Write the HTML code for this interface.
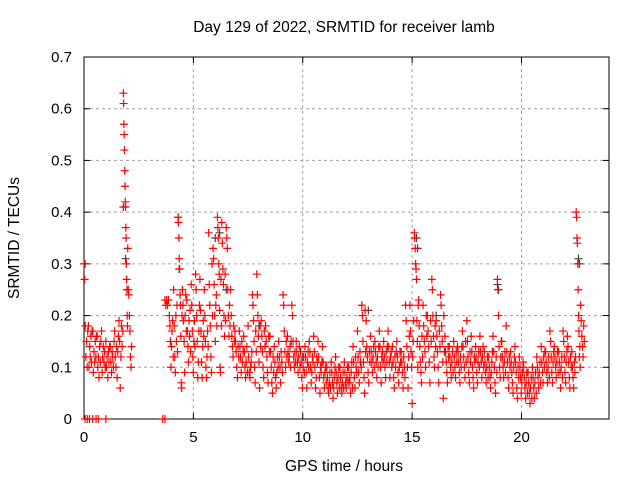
<!DOCTYPE html>
<html><head><meta charset="utf-8"><style>
html,body{margin:0;padding:0;background:#fff}
svg{display:block;font-family:"Liberation Sans",sans-serif}
</style></head><body>
<svg id="chart" width="640" height="480">
<rect width="640" height="480" fill="#fff"/>
<g id="grid"></g>
<g id="axes"></g>
<g id="gray"></g>
<g id="red"></g>
<text x="344" y="32" text-anchor="middle" font-size="15.5">Day 129 of 2022, SRMTID for receiver lamb</text>
<text x="344" y="471" text-anchor="middle" font-size="15.5">GPS time / hours</text>
<text transform="translate(19,238) rotate(-90)" text-anchor="middle" font-size="15.5">SRMTID / TECUs</text>
</svg>
<script>
const binStarts=[0,0.2,0.4,0.6,0.8,1.0,1.2,1.4,1.6,1.8,2.0,3.7,3.9,4.1,4.3,4.5,4.7,4.9,5.1,5.3,5.5,5.7,5.9,6.1,6.3,6.5,6.7,6.9,7.1,7.3,7.5,7.7,7.9,8.1,8.3,8.5,8.7,8.9,9.1,9.3,9.5,9.7,9.9,10.1,10.3,10.5,10.7,10.9,11.1,11.3,11.5,11.7,11.9,12.1,12.3,12.5,12.7,12.9,13.1,13.3,13.5,13.7,13.9,14.1,14.3,14.5,14.7,14.9,15.1,15.3,15.5,15.7,15.9,16.1,16.3,16.5,16.7,16.9,17.1,17.3,17.5,17.7,17.9,18.1,18.3,18.5,18.7,18.9,19.1,19.3,19.5,19.7,19.9,20.1,20.3,20.5,20.7,20.9,21.1,21.3,21.5,21.7,21.9,22.1,22.3,22.5,22.7];
const binValues=[
[.30,.27,.18,.12,.15,.10,.17],[.18,.10,.14,.12,.16,.11,.17],[.17,.09,.13,.11,.15,.12,.16],[.16,.10,.12,.08,.14,.11,.15],[.17,.09,.12,.14,.11,.13,.10],
[.15,.10,.12,.08,.13,.11,.14],[.14,.11,.09,.13,.12,.10,.15],[.17,.12,.10,.14,.08,.13,.16],[.19,.15,.06,.12,.18,.14,.17],
[.63,.61,.57,.55,.52,.48,.45,.42,.41,.37,.35,.30,.27,.25,.20,.18],[.33,.25,.24,.20,.17,.12,.10,.14],
[.23,.22,.23,.22,.23],[.20,.18,.15,.10,.14,.17,.19,.12],[.25,.18,.12,.09,.20,.15,.22,.13],[.39,.38,.35,.31,.29,.24,.22,.16,.07,.06,.20],
[.25,.22,.19,.15,.09,.20,.24,.17],[.23,.17,.14,.11,.19,.16,.21,.13],[.26,.22,.17,.12,.09,.15,.19,.14],[.28,.25,.20,.15,.08,.11,.17,.22],
[.27,.21,.17,.11,.08,.14,.19,.16],[.25,.20,.15,.10,.08,.12,.17,.14],[.36,.26,.22,.18,.12,.09,.30,.20],[.33,.31,.26,.20,.15,.22,.24,.18],
[.39,.37,.35,.30,.28,.21,.10,.09,.27,.18],[.38,.34,.29,.26,.20,.16,.28,.19],[.37,.35,.33,.25,.20,.16,.22,.18],[.25,.20,.16,.14,.12,.18,.15],
[.17,.15,.13,.10,.08,.14,.12],[.17,.14,.12,.09,.15,.11,.13],[.16,.13,.10,.08,.11,.14,.09],[.18,.12,.09,.08,.10,.11,.13],[.24,.22,.19,.15,.10,.07,.17,.13],
[.28,.24,.20,.16,.11,.06,.18,.14],[.19,.16,.13,.10,.08,.17,.14],[.18,.15,.12,.09,.07,.16,.13],[.16,.13,.10,.07,.05,.12,.09],[.14,.11,.08,.06,.09,.12,.10],
[.15,.12,.10,.07,.13,.11,.09],[.24,.22,.17,.13,.10,.15,.12],[.16,.13,.11,.12,.14,.10,.15],[.22,.20,.15,.12,.10,.13,.11],[.15,.13,.11,.09,.12,.14,.10],
[.13,.11,.08,.06,.10,.12,.09],[.14,.12,.09,.06,.11,.13,.10],[.15,.13,.10,.07,.09,.12,.11],[.16,.13,.10,.06,.08,.12,.11],[.15,.12,.08,.05,.10,.09,.11],
[.14,.11,.08,.06,.09,.10,.07],[.10,.08,.06,.05,.07,.09,.06],[.11,.09,.07,.04,.06,.08,.10],[.12,.09,.07,.05,.08,.10,.06],[.10,.08,.06,.05,.07,.09,.06],
[.11,.09,.07,.06,.08,.10,.07],[.10,.08,.07,.05,.09,.11,.06],[.14,.11,.08,.06,.12,.10,.09],[.17,.12,.09,.07,.13,.11,.10],[.22,.20,.15,.11,.08,.05,.21,.13],
[.19,.14,.12,.09,.07,.13,.11],[.16,.13,.11,.09,.12,.14,.10],[.15,.13,.11,.08,.12,.10,.14],[.17,.14,.10,.07,.12,.13,.11],[.15,.12,.10,.08,.13,.11,.14],
[.17,.14,.11,.08,.12,.13,.10],[.14,.11,.08,.06,.12,.10,.13],[.15,.12,.09,.07,.10,.13,.11],[.13,.11,.09,.06,.12,.10,.08],[.22,.19,.14,.10,.06,.12,.16],
[.22,.17,.13,.10,.03,.12,.15,.19],[.36,.35,.33,.30,.29,.27,.19,.15,.10,.22],[.23,.18,.14,.11,.09,.07,.16,.12],[.22,.18,.15,.13,.10,.20,.16],
[.20,.17,.14,.11,.07,.19,.15],[.27,.25,.20,.16,.12,.10,.18,.14],[.19,.16,.13,.10,.07,.17,.14],[.24,.22,.18,.15,.11,.04,.20,.13],[.16,.13,.11,.09,.07,.14,.12],
[.14,.12,.10,.08,.11,.13,.09],[.15,.12,.10,.08,.13,.11,.14],[.13,.11,.09,.07,.12,.10,.14],[.17,.14,.12,.10,.08,.15,.11],[.19,.15,.12,.09,.07,.13,.11],
[.16,.13,.10,.08,.06,.12,.11],[.14,.12,.09,.07,.11,.13,.10],[.16,.13,.11,.08,.12,.14,.10],[.13,.11,.09,.07,.10,.12,.08],[.12,.10,.08,.06,.09,.11,.13],
[.16,.13,.10,.07,.05,.12,.09],[.27,.25,.20,.14,.10,.08,.12,.15],[.15,.12,.10,.08,.11,.13,.09],[.18,.13,.11,.08,.06,.12,.10],[.13,.11,.09,.07,.05,.10,.12],
[.14,.11,.09,.06,.04,.10,.08],[.12,.10,.08,.05,.07,.09,.11],[.10,.08,.06,.04,.07,.09,.05],[.09,.07,.05,.03,.06,.08,.04],[.10,.08,.06,.04,.07,.09,.05],
[.12,.10,.08,.06,.09,.11,.07],[.14,.11,.09,.07,.12,.10,.13],[.13,.11,.09,.07,.10,.12,.08],[.17,.15,.12,.09,.07,.11,.13],[.14,.12,.10,.08,.11,.13,.09],
[.13,.11,.09,.06,.10,.12,.08],[.17,.15,.12,.09,.07,.11,.13],[.16,.14,.11,.08,.06,.12,.10],[.13,.10,.08,.06,.11,.09,.12],
[.40,.39,.35,.34,.30,.25,.20,.17,.12,.14,.10],[.22,.19,.16,.14,.12,.18,.15]];
const zeroTimes=[0.05,0.15,0.25,0.4,0.55,0.65,1.0,3.6,3.7];
const grayTimes=[0.05,1.8,1.9,4.3,4.35,6.0,6.2,6.5,10.0,15.2,15.25,18.9,18.95,22.6,22.65,13.0,16.1,8.0];
const grayValues=[0.30,0.41,0.31,0.39,0.29,0.35,0.36,0.25,0.12,0.35,0.33,0.26,0.25,0.31,0.30,0.21,0.20,0.18];
const xTicks=[0,5,10,15,20];
const yTicks=[0,0.1,0.2,0.3,0.4,0.5,0.6,0.7];
const yLabels=["0","0.1","0.2","0.3","0.4","0.5","0.6","0.7"];

const L=84,R=609,T=57,B=419,XMAX=24,YMAX=0.7;
const xs=v=>L+(R-L)*v/XMAX, ys=v=>B-(B-T)*v/YMAX;
const NS='http://www.w3.org/2000/svg';
function mk(tag,parent,attrs){const e=document.createElementNS(NS,tag);for(const k in attrs)e.setAttribute(k,attrs[k]);parent.appendChild(e);return e;}
const grid=document.getElementById('grid'),axes=document.getElementById('axes');
xTicks.forEach(t=>{const x=xs(t);
 if(t>0){const g=mk('line',grid,{x1:x,x2:x,y1:T,y2:B,stroke:'#a0a0a0','stroke-dasharray':'3,3'});
 
 }
 mk('line',axes,{x1:x,x2:x,y1:B,y2:B-6,stroke:'#000'});mk('line',axes,{x1:x,x2:x,y1:T,y2:T+6,stroke:'#000'});
 const tx=mk('text',axes,{x:x,y:B+23,'text-anchor':'middle','font-size':15});tx.textContent=t;
 
 
});
yTicks.forEach((t,i)=>{const y=ys(t);
 if(t>0&&t<YMAX-1e-9){const g=mk('line',grid,{x1:L,x2:R,y1:y,y2:y,stroke:'#a0a0a0','stroke-dasharray':'3,3'});
 
 }
 mk('line',axes,{x1:L,x2:L+6,y1:y,y2:y,stroke:'#000'});mk('line',axes,{x1:R,x2:R-6,y1:y,y2:y,stroke:'#000'});
 const tx=mk('text',axes,{x:L-12,y:y+5,'text-anchor':'end','font-size':15});tx.textContent=yLabels[i];
 
 
});
const fr=mk('rect',axes,{x:L,y:T,width:R-L,height:B-T,fill:'none',stroke:'#000'});


function plus(parent,t,v,col,name){const x=xs(t),y=ys(v);
 const p=mk('path',parent,{d:`M${x-4},${y}H${x+4}M${x},${y-4}V${y+4}`,stroke:col,'stroke-width':1.2,fill:'none'});
 
 }
const gray=document.getElementById('gray'),red=document.getElementById('red');
grayTimes.forEach((t,i)=>plus(gray,t,grayValues[i],'#404040','gray-point'));
binStarts.forEach((t,i)=>{const vals=binValues[i];vals.forEach((v,k)=>plus(red,t+k*0.2/vals.length,v,'#ff0000','red-point'));});
zeroTimes.forEach(t=>plus(red,t,0,'#ff0000','zero-point'));
</script>
</body></html>
